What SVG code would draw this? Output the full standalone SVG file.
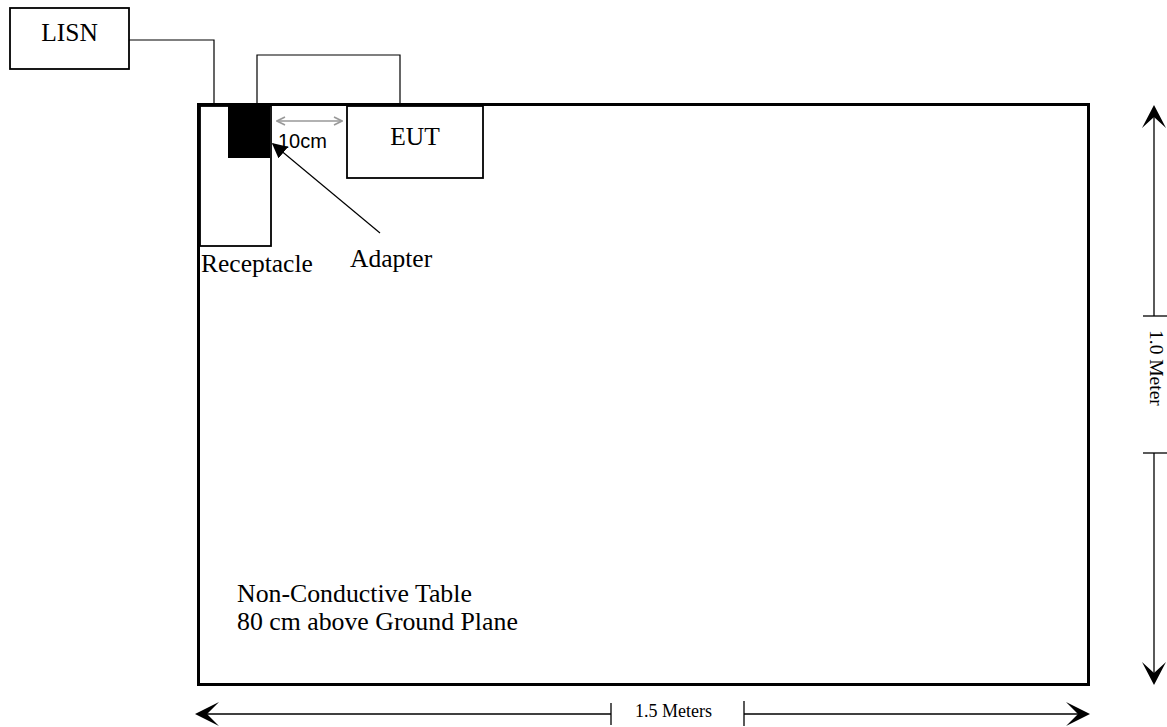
<svg xmlns="http://www.w3.org/2000/svg" width="1167" height="727" viewBox="0 0 1167 727">
<style>
.t{font-family:"Liberation Serif","Times New Roman",serif;fill:#000}
.big{font-size:25.5px}
.box{fill:#fff;stroke:#000;stroke-width:1.8}
.wire{fill:none;stroke:#000;stroke-width:1.2}
.dim{fill:none;stroke:#000;stroke-width:1.3}
</style>
<defs>
<marker id="tri" viewBox="0 0 10 10" refX="9" refY="5" markerWidth="15" markerHeight="15" markerUnits="userSpaceOnUse" orient="auto">
<path d="M0,0 L10,5 L0,10 Z" fill="#000"/>
</marker>
<marker id="grey" viewBox="0 0 10 10" refX="9" refY="5" markerWidth="10" markerHeight="10" markerUnits="userSpaceOnUse" orient="auto-start-reverse">
<path d="M1,1 L9,5 L1,9" fill="none" stroke="#999" stroke-width="1.6"/>
</marker>
</defs>
<g id="table">
<rect x="198.5" y="104.5" width="890" height="580" fill="#fff" stroke="#000" stroke-width="3"/>
<text class="t" x="237" y="602" font-size="25.8">Non-Conductive Table</text>
<text class="t" x="237" y="630" font-size="25.8">80 cm above Ground Plane</text>
</g>
<g id="lisn">
<rect class="box" x="10" y="8" width="119" height="61"/>
<text class="t big" x="69.5" y="41" text-anchor="middle">LISN</text>
</g>
<g id="receptacle">
<rect class="box" x="200" y="106" width="71" height="140"/>
<text class="t big" x="201" y="272">Receptacle</text>
</g>
<g id="adapter">
<rect x="228" y="106" width="42" height="52" fill="#000"/>
<text class="t big" x="350" y="267">Adapter</text>
</g>
<g id="eut">
<rect class="box" x="347" y="106" width="136" height="72"/>
<text class="t big" x="415" y="145" text-anchor="middle">EUT</text>
</g>
<g id="connectors">
<polyline class="wire" points="129,40 214,40 214,104"/>
<polyline class="wire" points="257,104 257,55 400,55 400,104"/>
<line x1="277" y1="121" x2="342" y2="121" stroke="#999" stroke-width="1.6" marker-start="url(#grey)" marker-end="url(#grey)"/>
<text x="278" y="148" font-family="Liberation Sans, Arial, sans-serif" font-size="20" fill="#000">10cm</text>
<line x1="380" y1="233" x2="273" y2="144" stroke="#000" stroke-width="1.2" marker-end="url(#tri)"/>
</g>
<g id="dim-width">
<line class="dim" x1="197" y1="714" x2="611" y2="714"/>
<line class="dim" x1="744" y1="714" x2="1088" y2="714"/>
<line class="dim" x1="611" y1="703" x2="611" y2="725"/>
<line class="dim" x1="744" y1="701" x2="744" y2="726"/>
<path d="M195,714 L219,702 L207,714 L219,726 Z" fill="#000"/>
<path d="M1090,714 L1066,702 L1078,714 L1066,726 Z" fill="#000"/>
<text class="t" x="635" y="717" font-size="18">1.5 Meters</text>
</g>
<g id="dim-height">
<line class="dim" x1="1154" y1="107" x2="1154" y2="316"/>
<line class="dim" x1="1154" y1="453" x2="1154" y2="683"/>
<line class="dim" x1="1143" y1="316" x2="1167" y2="316"/>
<line class="dim" x1="1143" y1="453" x2="1167" y2="453"/>
<path d="M1154,105 L1166,128 L1154,117 L1142,128 Z" fill="#000"/>
<path d="M1154,685 L1166,662 L1154,673 L1142,662 Z" fill="#000"/>
<text class="t" font-size="19.5" transform="translate(1150,330) rotate(90)">1.0 Meter</text>
</g>
</svg>
